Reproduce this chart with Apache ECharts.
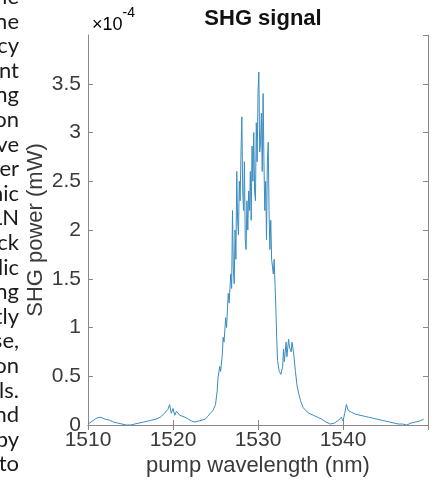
<!DOCTYPE html>
<html>
<head>
<meta charset="utf-8">
<script src="https://cdn.jsdelivr.net/npm/echarts@6/dist/echarts.min.js"></script>
<style>
html,body{margin:0;padding:0;background:#fff;}
#chart{width:438px;height:482px;}
</style>
</head>
<body>
<div id="chart"></div>
<script>
// pump wavelength (nm)
const wavelength = [
  1510.0,1510.5,1511.0,1511.5,1512.0,1512.5,1513.0,1513.5,1514.0,1514.5,
  1515.0,1515.5,1516.0,1516.5,1517.0,1517.5,1518.0,1518.5,1519.0,1519.2,
  1519.4,1519.6,1519.8,1520.0,1520.2,1520.4,1520.6,1520.8,1521.0,1521.4,
  1521.8,1522.2,1522.6,1523.0,1523.4,1523.8,1524.1,1524.4,1524.7,1525.0,
  1525.2,1525.3,1525.5,1525.6,1525.8,1525.9,1526.0,1526.2,1526.3,1526.5,
  1526.6,1526.8,1526.9,1527.0,1527.1,1527.2,1527.3,1527.4,1527.5,1527.6,
  1527.7,1527.8,1527.9,1528.0,1528.1,1528.2,1528.3,1528.4,1528.5,1528.6,
  1528.7,1528.8,1528.9,1529.0,1529.1,1529.2,1529.3,1529.4,1529.5,1529.6,
  1529.7,1529.8,1529.9,1530.0,1530.1,1530.2,1530.3,1530.4,1530.5,1530.6,
  1530.7,1530.8,1530.9,1531.0,1531.1,1531.2,1531.3,1531.4,1531.5,1531.6,
  1531.8,1531.9,1532.0,1532.1,1532.2,1532.3,1532.5,1532.7,1532.9,1533.0,
  1533.1,1533.3,1533.4,1533.6,1533.7,1533.9,1534.0,1534.2,1534.4,1534.6,
  1534.8,1535.0,1535.3,1535.6,1536.0,1536.5,1537.0,1537.5,1538.0,1538.5,
  1539.0,1539.5,1539.8,1540.0,1540.2,1540.4,1540.6,1540.8,1541.0,1541.5,
  1542.0,1542.5,1543.0,1543.5,1544.0,1544.5,1545.0,1545.5,1546.0,1546.5,
  1547.0,1547.5,1548.0,1548.5,1549.0,1549.5
];
// SHG power (x1e-4 mW)
const shgPower = [
  0.01,0.04,0.07,0.08,0.06,0.05,0.03,0.02,0.01,0.00,
  0.00,0.01,0.02,0.03,0.04,0.05,0.06,0.08,0.12,0.10,
  0.16,0.21,0.12,0.17,0.10,0.14,0.16,0.10,0.09,0.08,
  0.06,0.04,0.03,0.04,0.05,0.06,0.09,0.12,0.15,0.21,
  0.35,0.49,0.60,0.55,0.72,0.90,0.85,1.10,1.00,1.35,
  1.25,1.55,1.40,2.20,1.60,1.45,2.00,1.70,2.60,2.10,
  1.95,2.50,2.30,2.80,3.16,2.40,2.20,2.70,1.90,1.80,
  2.30,2.00,2.40,2.20,2.60,2.10,2.86,2.50,3.00,2.40,
  2.30,3.10,2.70,3.40,3.62,2.80,2.90,3.20,2.60,3.40,
  2.70,2.20,2.50,1.90,2.70,2.90,2.20,1.80,2.10,1.70,
  1.55,1.70,1.45,1.20,0.90,0.66,0.55,0.52,0.60,0.78,
  0.65,0.85,0.70,0.88,0.80,0.75,0.85,0.73,0.55,0.40,
  0.32,0.25,0.18,0.15,0.12,0.10,0.08,0.06,0.03,0.01,
  0.02,0.05,0.08,0.04,0.12,0.21,0.15,0.17,0.13,0.11,
  0.10,0.09,0.08,0.07,0.06,0.05,0.04,0.03,0.02,0.01,
  0.01,0.00,0.02,0.03,0.04,0.06
];
const xTicks = [1510, 1520, 1530, 1540];
const yTicks = [0, 0.5, 1, 1.5, 2, 2.5, 3, 3.5];
// words at the line ends of the neighbouring text column
const sideWords = ['the','ne','cy','nt','ng','on','ve','er','nic','LN','ck','lic','ng','tly','se,','on','ls.','nd','by','to'];

const chart = echarts.init(document.getElementById('chart'), null, {renderer: 'canvas'});
const axisColor = '#8f8787';
const labelColor = '#3a3a3a';
const fam = '"Liberation Sans", Arial, sans-serif';

const sideText = sideWords.map((w, i) => ({
  type: 'text', right: 419, top: -14 + i * 24.6,
  style: {text: w, font: '22px "Lato", sans-serif', fill: '#1a1a1a', textAlign: 'right'}
}));

chart.setOption({
  animation: false,
  backgroundColor: '#ffffff',
  title: {
    text: 'SHG signal', left: 258, top: 3, textAlign: 'center',
    textStyle: {fontFamily: fam, fontWeight: 'bold', fontSize: 22, color: '#111'}
  },
  grid: {left: 88, right: 10, top: 35, bottom: 54, containLabel: false},
  xAxis: [{
    type: 'value', min: 1510, max: 1550, interval: 10,
    name: 'pump wavelength (nm)', nameLocation: 'middle', nameGap: 30, nameMoveOverlap: false,
    nameTextStyle: {fontFamily: fam, fontSize: 22, color: labelColor},
    axisLine: {show: true, lineStyle: {color: axisColor, width: 1}},
    axisTick: {show: true, inside: true, length: 5, lineStyle: {color: axisColor}},
    axisLabel: {
      fontFamily: fam, fontSize: 21, color: labelColor, margin: 5, showMaxLabel: false,
      formatter: v => xTicks.includes(v) ? String(v) : ''
    },
    splitLine: {show: false}
  }, {
    type: 'value', position: 'top', min: 1510, max: 1550, interval: 10,
    axisLine: {show: true, lineStyle: {color: axisColor, width: 1}},
    axisTick: {show: true, inside: true, length: 5, lineStyle: {color: axisColor}},
    axisLabel: {show: false}, splitLine: {show: false}
  }],
  yAxis: [{
    type: 'value', min: 0, max: 4, interval: 0.5,
    name: 'SHG power (mW)', nameLocation: 'middle', nameGap: 41, nameRotate: 90, nameMoveOverlap: false,
    nameTextStyle: {fontFamily: fam, fontSize: 22, color: labelColor},
    axisLine: {show: true, lineStyle: {color: axisColor, width: 1}},
    axisTick: {show: true, inside: true, length: 5, lineStyle: {color: axisColor}},
    axisLabel: {
      fontFamily: fam, fontSize: 21, color: labelColor, margin: 7, showMaxLabel: false,
      formatter: v => yTicks.includes(v) ? String(v) : ''
    },
    splitLine: {show: false}
  }, {
    type: 'value', position: 'right', min: 0, max: 4, interval: 0.5,
    axisLine: {show: true, lineStyle: {color: axisColor, width: 1}},
    axisTick: {show: true, inside: true, length: 5, lineStyle: {color: axisColor}},
    axisLabel: {show: false}, splitLine: {show: false}
  }],
  graphic: [
    {
      type: 'text', left: 92, top: 6,
      style: {
        text: '{a|×10}{b|-4}',
        rich: {
          a: {fontFamily: fam, fontSize: 18, color: labelColor, verticalAlign: 'bottom', padding: [10, 0, 0, 0]},
          b: {fontFamily: fam, fontSize: 14, color: labelColor, verticalAlign: 'top'}
        }
      }
    }
  ].concat(sideText),
  series: [{
    type: 'line', xAxisIndex: 0, yAxisIndex: 0,
    data: wavelength.map((w, i) => [w, shgPower[i]]),
    showSymbol: false, symbol: 'none',
    lineStyle: {color: '#3a8cc2', width: 1},
    silent: true
  }]
});
</script>
</body>
</html>
